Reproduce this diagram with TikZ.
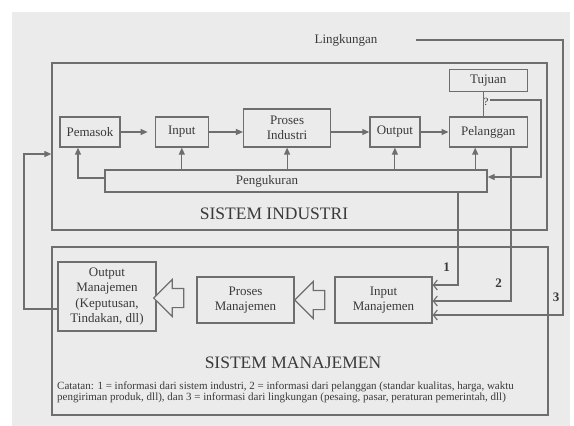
\documentclass[tikz,border=0pt]{standalone}
\usepackage{fontspec}
\setmainfont{Liberation Serif}
\usetikzlibrary{positioning,arrows.meta,shapes.arrows}
\definecolor{latar}{HTML}{EBEBEB}
\definecolor{garis}{HTML}{6E6E6E}
\definecolor{tulisan}{HTML}{3A3A3A}
\begin{document}
\begin{tikzpicture}[x=1pt, y=-1pt,
    kotak/.style = {draw=garis, line width=1.3pt, fill=latar, text=tulisan, inner sep=0pt, align=center, font=\fontsize{13}{15.5}\selectfont},
    bingkai/.style = {draw=garis, line width=1.3pt, inner sep=0pt},
    panah/.style = {draw=garis, line width=1.1pt, -{Triangle[length=7pt,width=6pt]}},
    garisan/.style = {draw=garis, line width=1.1pt},
    buka/.style = {draw=garis, line width=1.1pt, -{Straight Barb[length=4pt,width=10pt]}},
    tebal/.style = {single arrow, draw=garis, line width=1.1pt, fill=latar, shape border rotate=180, minimum height=30pt, minimum width=36pt, single arrow head extend=9pt, inner xsep=0pt, inner ysep=9pt},
    judul/.style = {text=tulisan, font=\fontsize{17.5}{20}\selectfont},
    angka/.style = {text=tulisan, font=\fontsize{13}{15}\selectfont\bfseries}]
  \fill[white] (0,0) rectangle (574,426);
  \fill[latar] (12,12) rectangle (570,426);
  \useasboundingbox (0,0) rectangle (574,426);

  % kedua sistem
  \node[bingkai, minimum width=495pt, minimum height=167pt] (sisind) at (299.5,146.5) {};
  \node[bingkai, minimum width=496pt, minimum height=168pt] (sisman) at (300,331) {};
  \node[judul] (jInd) at (274,214) {SISTEM INDUSTRI};
  \node[judul] (jMan) at (293,363) {SISTEM MANAJEMEN};

  % sistem industri
  \node[kotak, minimum width=60pt, minimum height=30pt] (pemasok) at (90,132) {Pemasok};
  \node[kotak, minimum width=53pt, minimum height=30pt, right=34pt of pemasok] (input) {Input};
  \node[kotak, minimum width=87pt, minimum height=38pt, right=34pt of input.south east, anchor=south west] (proses) {Proses\\Industri};
  \node[kotak, minimum width=50pt, minimum height=30pt, right=38pt of proses.south east, anchor=south west] (output) {Output};
  \node[kotak, minimum width=78pt, minimum height=30pt, right=28pt of output] (pelanggan) {Pelanggan};
  \node[kotak, minimum width=78pt, minimum height=22pt, above=24pt of pelanggan] (tujuan) {Tujuan};
  \node[kotak, minimum width=382pt, minimum height=22pt,
        label={[text=tulisan, font=\fontsize{13}{15}\selectfont, xshift=-29pt]center:Pengukuran}] (peng) at (296,181) {};
  \node[text=tulisan, font=\fontsize{11}{12}\selectfont, inner sep=1pt] (tanya) at (486,102) {?};
  \node[text=tulisan, font=\fontsize{13}{15}\selectfont] (lingk) at (346,40) {Lingkungan};

  \draw[panah, shorten >=7pt] (pemasok) -- (input);
  \draw[panah] (input.east) -- (input.east -| proses.west);
  \draw[panah] (output.west -| proses.east) -- (output.west);
  \draw[panah] (output) -- (pelanggan);
  \draw[garisan] ([xshift=-5pt]tujuan.south) -- ([xshift=-5pt]pelanggan.north);

  \draw[panah] ([yshift=3pt]peng.west) -| ([xshift=-12pt]pemasok.south);
  \draw[panah] (peng.north -| input.south) -- (input.south);
  \draw[panah] (peng.north -| proses.south) -- (proses.south);
  \draw[panah] (peng.north -| output.south) -- (output.south);
  \draw[panah] ([xshift=-13pt]pelanggan.south |- peng.north) -- ([xshift=-13pt]pelanggan.south);
  \coordinate (sudut) at (541,100);
  \draw[panah] (tanya.east |- sudut) -- (sudut) |- ([yshift=4pt]peng.east);

  % sistem manajemen
  \node[kotak, minimum width=98pt, minimum height=69pt] (outm) at (107,296.5) {Output\\Manajemen\\(Keputusan,\\Tindakan, dll)};
  \node[kotak, minimum width=97pt, minimum height=46pt] (prm) at (245.5,300) {Proses\\Manajemen};
  \node[kotak, minimum width=97pt, minimum height=46pt] (inpm) at (383.5,300) {Input\\Manajemen};
  \node[tebal] (h1) at (173.5,298) {};
  \node[tebal] (h2) at (314.5,300) {};

  \coordinate (j1) at (458,285);
  \coordinate (j2) at (511,301);
  \coordinate (j3) at (563,315);
  \draw[buka] (peng.south -| j1) |- (inpm.east |- j1);
  \draw[buka] (pelanggan.south -| j2) |- (inpm.east |- j2);
  \draw[buka] ([xshift=35pt]lingk.east) -| (j3) -- (inpm.east |- j3);
  \node[angka] (n1) at (446.5,267) {1};
  \node[angka] (n2) at (498.5,283) {2};
  \node[angka] (n3) at (556,297) {3};

  \coordinate (kiri) at (24,154);
  \draw[panah] ([yshift=-12.5pt]outm.west) -| (kiri) -- (kiri -| sisind.west);

  \node[text=tulisan, font=\fontsize{11}{11.5}\selectfont, align=left, anchor=west, inner sep=0pt] (catatan) at (57,392.5)
    {Catatan: 1 = informasi dari sistem industri, 2 = informasi dari pelanggan (standar kualitas, harga, waktu\\
     pengiriman produk, dll), dan 3 = informasi dari lingkungan (pesaing, pasar, peraturan pemerintah, dll)};
\end{tikzpicture}
\end{document}
